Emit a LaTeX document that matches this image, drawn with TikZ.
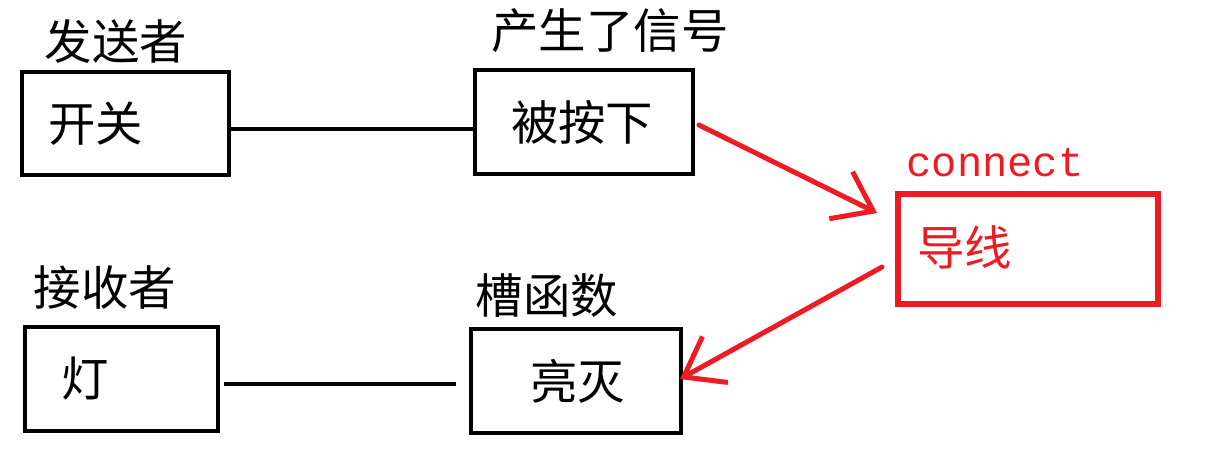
\documentclass[tikz,border=0pt]{standalone}
\usepackage{fontspec}
\newfontfamily\cjk{Noto Sans CJK SC}
\newfontfamily\codefont{Liberation Mono}
\definecolor{paintred}{RGB}{237, 28, 36}
\usetikzlibrary{
  arrows.meta,
  positioning
}

\begin{document}
\begin{tikzpicture}[
  x=0.02cm, y=-0.02cm,
  box/.style={draw, line width=0.08cm, inner sep=0pt, minimum height=2.08cm,
              align=left, font=\cjk\fontsize{27}{32}\selectfont},
  redbox/.style={box, draw=paintred, text=paintred, line width=0.12cm,
                 minimum height=2.2cm},
  title/.style={inner sep=0pt, font=\cjk\fontsize{27}{32}\selectfont},
  wire/.style={line width=0.08cm},
  signal/.style={draw=paintred, line width=0.1cm, line cap=round,
                 -{Straight Barb[length=0.72cm, width=1.05cm]}}
]
\useasboundingbox (0,0) rectangle (1225,451);

\node[box, text width=4.14cm] (switch)  at (125.5, 123.5) {\hspace*{0.52cm}开关};
\node[box, text width=4.36cm] (pressed) at (584, 122)     {\hspace*{0.72cm}\raisebox{-0.12cm}{被按下}};
\node[redbox, text width=5.2cm] (wire)  at (1028, 249)    {\hspace*{0.38cm}\raisebox{0.12cm}{导线}};
\node[box, text width=3.86cm] (lamp)    at (121.5, 379)   {\hspace*{0.72cm}\raisebox{-0.2cm}{灯}};
\node[box, text width=4.2cm]  (toggle)  at (576, 381)     {\hspace*{1.18cm}亮灭};

\node[title] (sender)   at (116, 41)  {发送者};
\node[title] (emitted)  at (610, 31)  {产生了信号};
\node[title] (receiver) at (105, 288) {接收者};
\node[title] (slotfn)   at (547, 296) {槽函数};
\node[inner sep=0pt, text=paintred, font=\codefont\fontsize{24}{28}\selectfont]
  (connect) at (995, 163) {connect};

\draw[wire] ([yshift=-0.1cm]switch.east) -- ([yshift=-0.1cm]switch.east -| pressed.west);
\draw[wire, shorten <=0.08cm, shorten >=0.26cm]
  ([yshift=-0.1cm]lamp.east) -- ([yshift=-0.1cm]lamp.east -| toggle.west);

\draw[signal] ([xshift=0.08cm, yshift=-0.06cm]pressed.east)
  -- ([xshift=-0.36cm, yshift=0.72cm]wire.west);
\draw[signal] ([xshift=-0.26cm, yshift=-0.36cm]wire.west)
  -- ([xshift=-0.06cm, yshift=0.04cm]toggle.east);

\end{tikzpicture}
\end{document}
